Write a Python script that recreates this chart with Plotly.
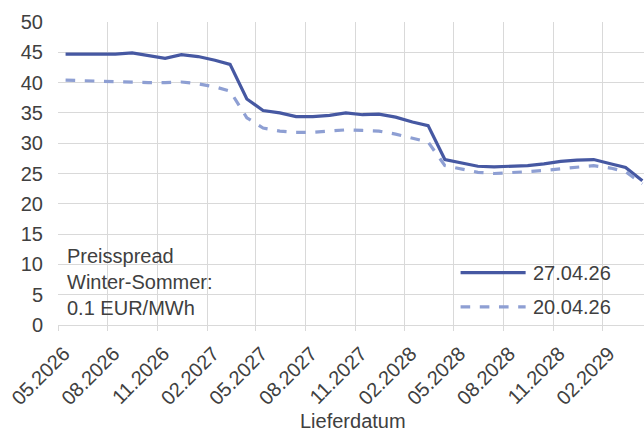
import pandas as pd
import plotly.graph_objects as go

# Delivery months (data points sit mid-month on a date axis)
months = pd.date_range("2026-05-01", periods=36, freq="MS") + pd.Timedelta(days=14)

series_a_name = "27.04.26"
series_a = [44.7, 44.7, 44.7, 44.7, 44.9, 44.5, 44.0, 44.6, 44.3, 43.7, 43.0, 37.3,
            35.4, 35.0, 34.4, 34.4, 34.6, 35.0, 34.7, 34.8, 34.3, 33.5, 32.9, 27.3,
            26.8, 26.2, 26.1, 26.2, 26.3, 26.6, 27.0, 27.2, 27.3, 26.6, 26.0, 23.8]

series_b_name = "20.04.26"
series_b = [40.4, 40.3, 40.3, 40.2, 40.1, 40.0, 40.0, 40.1, 39.8, 39.3, 38.6, 34.2,
            32.5, 32.0, 31.8, 31.8, 32.0, 32.2, 32.1, 32.0, 31.5, 30.8, 30.2, 26.3,
            25.7, 25.2, 25.0, 25.1, 25.3, 25.5, 25.8, 26.1, 26.3, 25.9, 25.3, 23.3]

note_text = "Preisspread<br>Winter-Sommer:<br>0.1 EUR/MWh"
x_title = "Lieferdatum"

c_a = "#4658A2"
c_b = "#8E9FD3"
grid = "#D9D9D9"
txt = "#404040"
FONT = "Liberation Sans, Arial, sans-serif"

fig = go.Figure()
fig.add_trace(go.Scatter(x=months, y=series_a, mode="lines", name=series_a_name,
                         line=dict(color=c_a, width=3.2), showlegend=False))
fig.add_trace(go.Scatter(x=months, y=series_b, mode="lines", name=series_b_name,
                         line=dict(color=c_b, width=3.2, dash="dash"), showlegend=False))

# Manual legend (longer line samples like the original)
legend_rows = [(series_a_name, c_a, "solid", 0.173), (series_b_name, c_b, "dash", 0.06)]
for name, col, dash, yy in legend_rows:
    fig.add_shape(type="line", xref="paper", yref="paper", x0=0.687, x1=0.798, y0=yy, y1=yy,
                  line=dict(color=col, width=3.2, dash=dash))
    fig.add_annotation(xref="paper", yref="paper", x=0.808, y=yy, text=name, showarrow=False,
                       xanchor="left", yanchor="middle", font=dict(size=20, color=txt, family=FONT))

fig.add_annotation(xref="paper", yref="paper", x=0.012, y=0.27, text=note_text, showarrow=False,
                   xanchor="left", yanchor="top", align="left",
                   font=dict(size=20, color=txt, family=FONT))

# x-axis title placed below the rotated tick labels
fig.add_annotation(xref="paper", yref="paper", x=0.503, y=-0.318, text=x_title, showarrow=False,
                   xanchor="center", yanchor="middle",
                   font=dict(size=20, color=txt, family=FONT))

fig.update_layout(
    width=644, height=432,
    margin=dict(l=58, r=0, t=22, b=107),
    paper_bgcolor="white", plot_bgcolor="white",
    font=dict(family=FONT, size=20, color=txt),
)
fig.update_xaxes(
    type="date", range=["2026-05-01", "2029-04-18"], automargin=False,
    tick0="2026-05-01", dtick="M3", tickformat="%m.%Y", tickangle=-45,
    showgrid=True, gridcolor=grid, gridwidth=1,
    showline=True, linecolor=grid, linewidth=1,
    ticks="outside", ticklen=5, tickcolor=grid,
    ticklabelshift=6, ticklabelstandoff=3,
    tickfont=dict(size=20, color=txt, family=FONT),
    zeroline=False,
)
fig.update_yaxes(
    range=[0, 50], dtick=5, tick0=0, automargin=False,
    showgrid=True, gridcolor=grid, gridwidth=1,
    zeroline=False, showline=False, ticks="",
    ticklabelstandoff=14,
    tickfont=dict(size=20, color=txt, family=FONT),
)

fig.write_html("out.html", config={"displayModeBar": False},
               post_script="document.body.style.margin='0px';document.body.style.overflow='hidden';")
